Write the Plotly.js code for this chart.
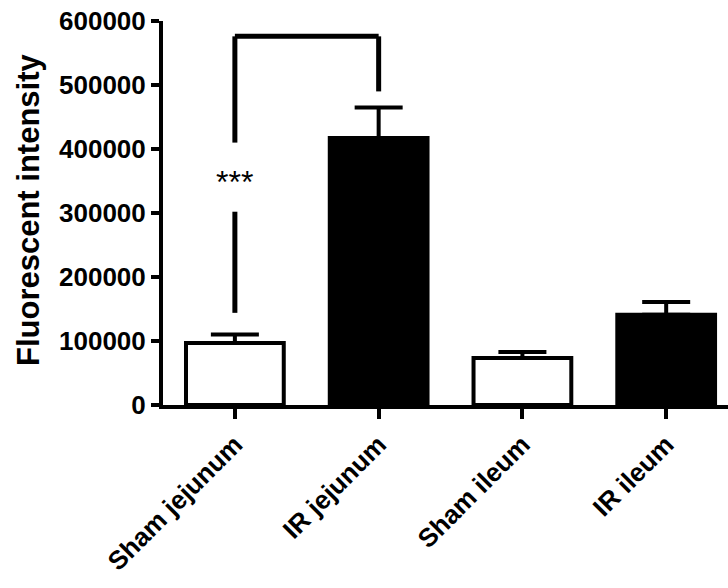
<!DOCTYPE html>
<html>
<head>
<meta charset="utf-8">
<script src="https://cdn.plot.ly/plotly-3.0.1.min.js"></script>
<style>html,body{margin:0;padding:0;background:#fff;}#chart{width:728px;height:588px;}</style>
</head>
<body>
<div id="chart"></div>
<script>
// Data
const categories = ["Sham jejunum", "IR jejunum", "Sham ileum", "IR ileum"];
const means = [97000, 417000, 73500, 141000];
const sems = [13000, 48000, 9500, 20000];
const barColors = ["#ffffff", "#000000", "#ffffff", "#000000"];
const yTicks = [0, 100000, 200000, 300000, 400000, 500000, 600000];
const yTitle = "Fluorescent intensity";
// Significance bracket between Sham jejunum and IR jejunum
const bracketTop = 576000;
const bracketLeftBottom = 410000;
const bracketRightBottom = 490000;
const stemLow = 144000;
const stemHigh = 302000;
const starsY = 349000;
const starsText = "***";

const font = "Liberation Sans, Arial, sans-serif";

const trace = {
  type: "bar",
  x: categories,
  y: means,
  width: 0.68,
  marker: {color: barColors, line: {color: "#000", width: 4}},
  error_y: {type: "data", array: sems, arrayminus: sems.map(() => 0), symmetric: false,
            color: "#000", thickness: 4, width: 24},
  hoverinfo: "skip"
};

const shapes = [
  {type: "line", xref: "x", yref: "y", x0: 0, x1: 0, y0: bracketLeftBottom, y1: bracketTop},
  {type: "line", xref: "x", yref: "y", x0: 0, x1: 1, y0: bracketTop, y1: bracketTop},
  {type: "line", xref: "x", yref: "y", x0: 1, x1: 1, y0: bracketTop, y1: bracketRightBottom},
  {type: "line", xref: "x", yref: "y", x0: 0, x1: 0, y0: stemLow, y1: stemHigh}
].map(s => Object.assign(s, {line: {color: "#000", width: 5}}));

const layout = {
  width: 728, height: 588,
  margin: {l: 163, r: 0, t: 21, b: 183},
  paper_bgcolor: "#fff", plot_bgcolor: "#fff",
  showlegend: false,
  font: {family: font, color: "#000"},
  xaxis: {
    type: "category", range: [-0.5, 3.43],
    showline: true, linewidth: 4, linecolor: "#000",
    ticks: "outside", ticklen: 10, tickwidth: 4, tickcolor: "#000",
    tickangle: -45,
    tickfont: {family: font, size: 26, color: "#000", weight: "bold"},
    showgrid: false, zeroline: false, fixedrange: true
  },
  yaxis: {
    range: [0, 600000], tickvals: yTicks, ticktext: yTicks.map(String),
    showline: true, linewidth: 4, linecolor: "#000",
    ticks: "outside", ticklen: 8, tickwidth: 4, tickcolor: "#000",
    tickfont: {family: font, size: 26, color: "#000", weight: "bold"},
    showgrid: false, zeroline: false, fixedrange: true
  },
  shapes: shapes,
  annotations: [
    {xref: "x", yref: "y", x: 0, y: starsY, text: starsText, showarrow: false,
     font: {family: font, size: 32, color: "#000"}},
    {xref: "paper", yref: "paper", x: -0.237, y: 0.508, xanchor: "center", yanchor: "middle",
     text: yTitle, textangle: -90, showarrow: false,
     font: {family: font, size: 31, color: "#000", weight: "bold"}}
  ]
};

Plotly.newPlot("chart", [trace], layout, {displayModeBar: false, staticPlot: true});
</script>
</body>
</html>
